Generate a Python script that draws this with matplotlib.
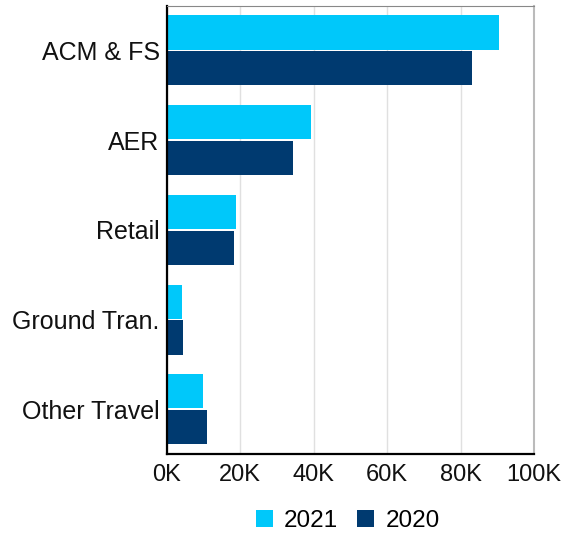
import numpy as np
import matplotlib.pyplot as plt
from matplotlib.ticker import FuncFormatter

plt.rcParams['font.family'] = ['Liberation Sans', 'DejaVu Sans']

# Данные
categories = ["ACM & FS", "AER", "Retail", "Ground Tran.", "Other Travel"]
values_2021 = [90500, 39300, 18900, 4200, 9900]
values_2020 = [83100, 34400, 18300, 4500, 11000]

c2021 = "#00C8FA"
c2020 = "#003A70"

fig = plt.figure(figsize=(5.61, 5.33), dpi=100)
ax = fig.add_axes([0.297, 0.148, 0.655, 0.8415])

y = np.arange(len(categories))
h = 0.38
ax.barh(y - 0.2, values_2021, height=h, color=c2021, label="2021", zorder=3)
ax.barh(y + 0.2, values_2020, height=h, color=c2020, label="2020", zorder=3)

ax.set_ylim(len(categories) - 0.5, -0.5)
ax.set_xlim(0, 100000)
ax.set_xticks(np.arange(0, 100001, 20000))
ax.xaxis.set_major_formatter(FuncFormatter(lambda v, p: f"{int(v / 1000)}K"))
ax.set_yticks(y)
ax.set_yticklabels(categories)
ax.tick_params(axis="both", length=0, labelcolor="#111111")
ax.tick_params(axis="x", pad=7, labelsize=17)
ax.tick_params(axis="y", pad=5, labelsize=18)

ax.grid(axis="x", color="#e0e0e0", linewidth=1, zorder=0)
for s in ax.spines.values():
    s.set_zorder(4)
ax.spines["left"].set_color("black")
ax.spines["left"].set_linewidth(1.6)
ax.spines["bottom"].set_color("black")
ax.spines["bottom"].set_linewidth(1.6)
ax.spines["top"].set_color("#888888")
ax.spines["right"].set_color("#bbbbbb")
ax.spines["right"].set_linewidth(1.5)

fig.legend(loc="center", bbox_to_anchor=(0.62, 0.023), ncol=2, frameon=False,
           fontsize=17.5, handlelength=0.7, handleheight=0.7, handletextpad=0.45,
           columnspacing=0.8)

fig.savefig("out.png", dpi=100)
